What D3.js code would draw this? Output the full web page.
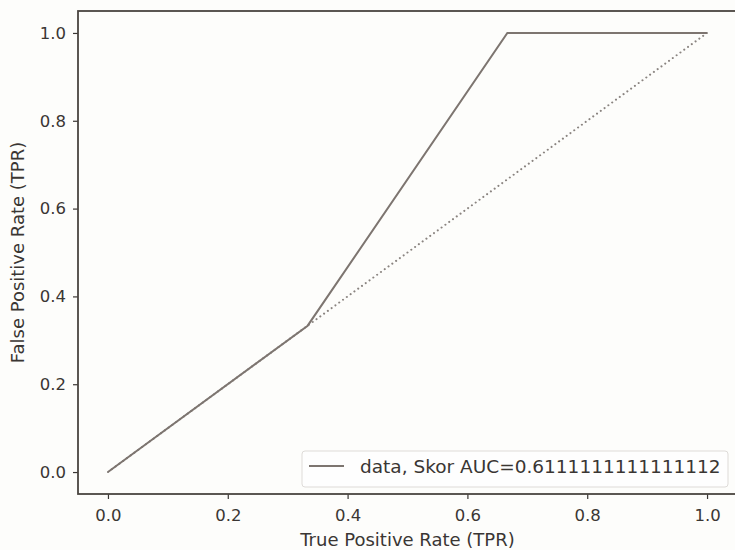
<!DOCTYPE html>
<html>
<head>
<meta charset="utf-8">
<script src="https://cdn.jsdelivr.net/npm/d3@7"></script>
<style>
  body { margin: 0; background: #fdfdfb; }
  svg { font-family: "DejaVu Sans", sans-serif; }
</style>
</head>
<body>
<script>
// ROC curve points
var fpr = [0, 0.3333333, 0.6666667, 1];
var tpr = [0, 0.3333333, 1, 1];
// chance diagonal
var diagX = [0, 1];
var diagY = [0, 1];
var xTicks = [0, 0.2, 0.4, 0.6, 0.8, 1.0];
var yTicks = [0, 0.2, 0.4, 0.6, 0.8, 1.0];
var legendLabel = "data, Skor AUC=0.6111111111111112";

var width = 735, height = 550;
var margin = {top: 11, right: -2, bottom: 56, left: 78};
var innerW = width - margin.left - margin.right;
var innerH = height - margin.top - margin.bottom;

var ink = "#3a3633";
var lineColor = "#7d7570";

var svg = d3.select("body").append("svg")
    .attr("width", width)
    .attr("height", height);

var g = svg.append("g")
    .attr("transform", "translate(" + margin.left + "," + margin.top + ")");

// Scales (matplotlib style 5% margins)
var x = d3.scaleLinear().domain([-0.05, 1.05]).range([0, innerW]);
var y = d3.scaleLinear().domain([-0.05, 1.05]).range([innerH, 0]);

// Axes
var xAxis = g.append("g")
    .attr("transform", "translate(0," + innerH + ")")
    .call(d3.axisBottom(x).tickValues(xTicks).tickFormat(d3.format(".1f")).tickSize(5).tickPadding(10));
var yAxis = g.append("g")
    .call(d3.axisLeft(y).tickValues(yTicks).tickFormat(d3.format(".1f")).tickSize(5).tickPadding(7));

[xAxis, yAxis].forEach(function(a) {
    a.select(".domain").remove();
    a.selectAll("line").attr("stroke", ink).attr("stroke-width", 1.2);
    a.selectAll("text").attr("fill", ink).style("font-size", "16.5px").style("font-family", "DejaVu Sans");
});

// Frame
g.append("rect")
    .attr("width", innerW)
    .attr("height", innerH)
    .attr("fill", "none")
    .attr("stroke", "#4a4540")
    .attr("stroke-width", 1.8);

// Dotted diagonal
var line = d3.line().x(function(d) { return x(d[0]); }).y(function(d) { return y(d[1]); });
g.append("path")
    .datum(d3.zip(diagX, diagY))
    .attr("d", line)
    .attr("fill", "none")
    .attr("stroke", "#8a8480")
    .attr("stroke-width", 2)
    .attr("stroke-dasharray", "0.1 4.6")
    .attr("stroke-linecap", "round");

// ROC curve
g.append("path")
    .datum(d3.zip(fpr, tpr))
    .attr("d", line)
    .attr("fill", "none")
    .attr("stroke", lineColor)
    .attr("stroke-width", 2);

// Legend
var lg = g.append("g").attr("transform", "translate(" + (innerW - 435) + "," + (innerH - 43) + ")");
lg.append("rect")
    .attr("width", 426).attr("height", 36).attr("rx", 3)
    .attr("fill", "#fefefe").attr("stroke", "#dedbd8");
lg.append("line")
    .attr("x1", 7).attr("x2", 42).attr("y1", 15).attr("y2", 15)
    .attr("stroke", lineColor).attr("stroke-width", 2);
lg.append("text")
    .attr("x", 58).attr("y", 22)
    .attr("fill", ink)
    .style("font-size", "18.5px")
    .text(legendLabel);

// Axis labels
svg.append("text")
    .attr("x", margin.left + x(0.5))
    .attr("y", 546)
    .attr("text-anchor", "middle")
    .attr("fill", ink)
    .style("font-size", "18px")
    .text("True Positive Rate (TPR)");
svg.append("text")
    .attr("transform", "translate(24," + (margin.top + y(0.5)) + ") rotate(-90)")
    .attr("text-anchor", "middle")
    .attr("fill", ink)
    .style("font-size", "18px")
    .text("False Positive Rate (TPR)");
</script>
</body>
</html>
